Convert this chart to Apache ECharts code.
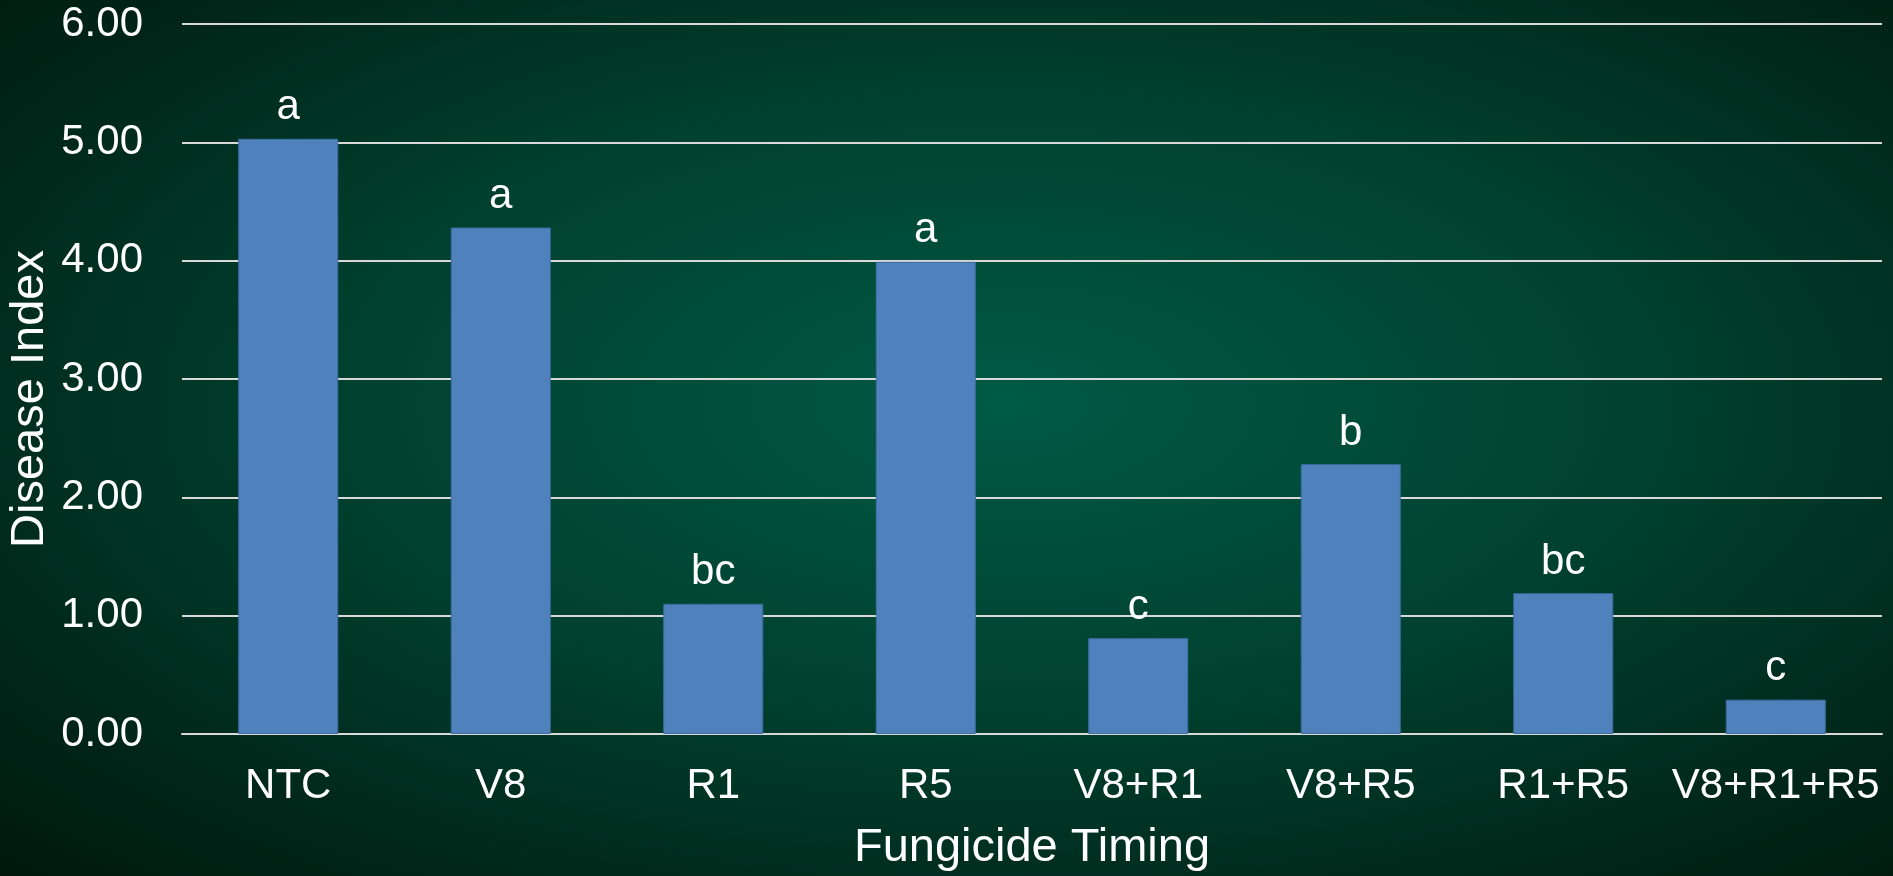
<!DOCTYPE html>
<html>
<head>
<meta charset="utf-8">
<script src="https://cdn.jsdelivr.net/npm/echarts@6/dist/echarts.min.js"></script>
<style>
html,body{margin:0;padding:0;width:1893px;height:876px;overflow:hidden;
background:radial-gradient(ellipse farthest-corner at 53% 46%, #005a45 0%, #00412f 45%, #002a1c 75%, #00180e 100%);}
#chart{width:1893px;height:876px;}
</style>
</head>
<body>
<div id="chart"></div>
<script>
const categories = ['NTC','V8','R1','R5','V8+R1','V8+R5','R1+R5','V8+R1+R5'];
const values = [5.03, 4.28, 1.10, 3.99, 0.81, 2.28, 1.19, 0.29];
const letters = ['a','a','bc','a','c','b','bc','c'];
const yTicks = {min:0, max:6, interval:1};

const font = 'Liberation Sans, Arial, sans-serif';
const chart = echarts.init(document.getElementById('chart'), null, {renderer:'canvas'});
chart.setOption({
  backgroundColor:'transparent',
  animation:false,
  grid:{left:182, right:11, top:24, bottom:142, containLabel:false, outerBoundsMode:'none'},
  xAxis:{
    type:'category', data:categories,
    axisLine:{show:true, lineStyle:{color:'#d9d9d9', width:2}},
    axisTick:{show:false},
    axisLabel:{color:'#ffffff', fontSize:42, fontFamily:font, margin:31, interval:0},
    name:'Fungicide Timing', nameLocation:'middle', nameGap:91, nameMoveOverlap:false,
    nameTextStyle:{color:'#ffffff', fontSize:47, fontFamily:font}
  },
  yAxis:{
    type:'value', min:yTicks.min, max:yTicks.max, interval:yTicks.interval,
    axisLine:{show:false}, axisTick:{show:false},
    axisLabel:{color:'#ffffff', fontSize:42, fontFamily:font, margin:39,
      formatter:v=>v.toFixed(2)},
    splitLine:{lineStyle:{color:'#d9d9d9', width:2}},
    name:'Disease Index', nameLocation:'middle', nameGap:128, nameRotate:90, nameMoveOverlap:false,
    nameTextStyle:{color:'#ffffff', fontSize:47, fontFamily:font, padding:[0,40,0,0]}
  },
  series:[{
    type:'bar', data:values, barWidth:100,
    itemStyle:{color:'#4f81bd', borderColor:'#3f6ea3', borderWidth:1},
    label:{show:true, position:'top', distance:10, color:'#ffffff', fontSize:42, fontFamily:font,
      formatter:p=>letters[p.dataIndex]}
  }]
});
</script>
</body>
</html>
